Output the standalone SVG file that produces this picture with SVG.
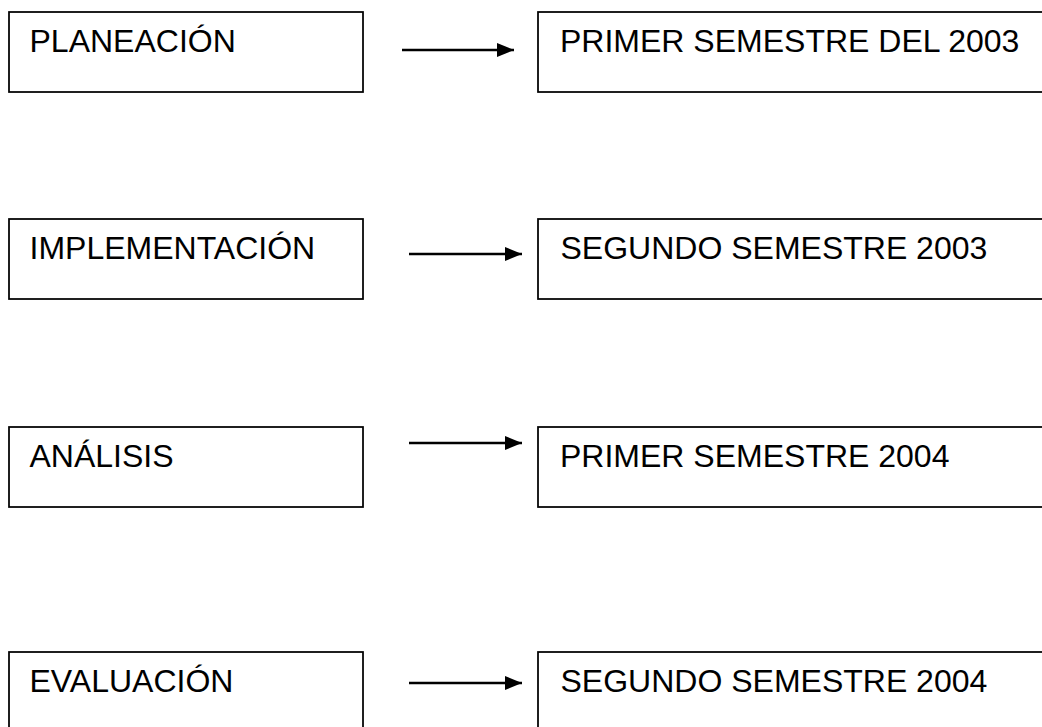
<svg xmlns="http://www.w3.org/2000/svg" width="1042" height="727" viewBox="0 0 1042 727">
  <style>
    .box { fill: #ffffff; stroke: #000000; stroke-width: 1.75; }
    .lbl { font-family: "Liberation Sans", Arial, sans-serif; font-size: 32px; fill: #000000; }
    .conn { stroke: #000000; stroke-width: 2.5; fill: none; }
  </style>
  <defs>
    <marker id="arrow" viewBox="0 0 17 14" refX="17" refY="7" markerWidth="17" markerHeight="14" markerUnits="userSpaceOnUse" orient="auto">
      <path d="M0,0 L17,7 L0,14 Z" fill="#000000"/>
    </marker>
  </defs>
  <rect width="1042" height="727" fill="#ffffff"/>

  <g id="n-planeacion">
    <rect class="box" x="9" y="12" width="354" height="80"/>
    <text class="lbl" x="29.5" y="52">PLANEACIÓN</text>
  </g>
  <g id="n-primer2003">
    <rect class="box" x="538" y="12" width="540" height="80"/>
    <text class="lbl" x="560" y="52">PRIMER SEMESTRE DEL 2003</text>
  </g>

  <g id="n-implementacion">
    <rect class="box" x="9" y="219" width="354" height="80"/>
    <text class="lbl" x="29.5" y="259">IMPLEMENTACIÓN</text>
  </g>
  <g id="n-segundo2003">
    <rect class="box" x="538" y="219" width="540" height="80"/>
    <text class="lbl" x="560.5" y="259">SEGUNDO SEMESTRE 2003</text>
  </g>

  <g id="n-analisis">
    <rect class="box" x="9" y="427" width="354" height="80"/>
    <text class="lbl" x="29.5" y="467">ANÁLISIS</text>
  </g>
  <g id="n-primer2004">
    <rect class="box" x="538" y="427" width="540" height="80"/>
    <text class="lbl" x="560" y="467">PRIMER SEMESTRE 2004</text>
  </g>

  <g id="n-evaluacion">
    <rect class="box" x="9" y="652" width="354" height="80"/>
    <text class="lbl" x="29.5" y="692">EVALUACIÓN</text>
  </g>
  <g id="n-segundo2004">
    <rect class="box" x="538" y="652" width="540" height="80"/>
    <text class="lbl" x="560.5" y="692">SEGUNDO SEMESTRE 2004</text>
  </g>

  <g id="connectors">
    <line class="conn" x1="402" y1="50" x2="514" y2="50" marker-end="url(#arrow)"/>
    <line class="conn" x1="409" y1="254" x2="522" y2="254" marker-end="url(#arrow)"/>
    <line class="conn" x1="409" y1="443" x2="522" y2="443" marker-end="url(#arrow)"/>
    <line class="conn" x1="409" y1="683" x2="522" y2="683" marker-end="url(#arrow)"/>
  </g>
</svg>
